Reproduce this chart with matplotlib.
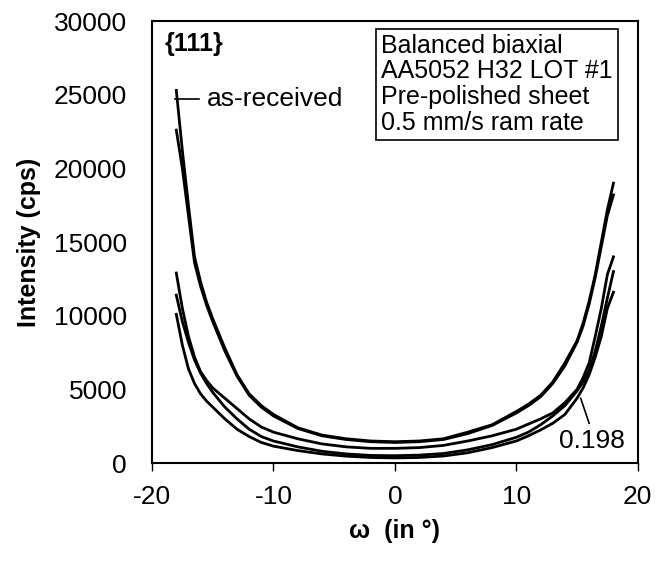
import matplotlib
matplotlib.use('Agg')
import matplotlib.pyplot as plt

plt.rcParams['font.family'] = ['Liberation Sans', 'DejaVu Sans']
plt.rcParams['axes.unicode_minus'] = False

# omega positions (degrees)
omega = [-18, -17.5, -17, -16.5, -16, -15.5, -15, -14, -13, -12, -11, -10, -8, -6, -4, -2, 0,
         2, 4, 6, 8, 10, 11, 12, 13, 14, 15, 15.5, 16, 16.5, 17, 17.5, 18]

# intensity curves (cps)
as_received = [25300, 21200, 17500, 14000, 12300, 10900, 9800, 7800, 6000, 4700, 3900, 3300, 2400, 1900, 1650, 1500, 1450,
               1500, 1650, 2100, 2600, 3500, 4000, 4600, 5500, 6800, 8300, 9500, 11000, 12800, 15000, 17200, 19000]
strain_b = [22600, 20000, 16800, 13600, 12000, 10700, 9600, 7600, 5900, 4600, 3800, 3200, 2350, 1850, 1600, 1450, 1400,
            1450, 1600, 2000, 2550, 3400, 3900, 4500, 5400, 6600, 8200, 9300, 10800, 12600, 14700, 16800, 18200]
strain_c = [12900, 10500, 8600, 7200, 6200, 5600, 5100, 4400, 3700, 3000, 2450, 2100, 1650, 1300, 1100, 1000, 1000,
            1050, 1200, 1500, 1850, 2300, 2650, 3000, 3400, 4100, 5000, 5800, 6800, 8600, 10500, 12800, 14000]
strain_d = [11400, 9600, 8200, 7000, 6100, 5400, 4800, 3800, 3000, 2300, 1800, 1500, 1100, 800, 620, 520, 500,
            540, 650, 900, 1250, 1750, 2100, 2600, 3200, 3900, 4900, 5500, 6300, 7600, 9300, 11200, 13000]
strain_198 = [10100, 8000, 6400, 5400, 4700, 4200, 3800, 3000, 2300, 1800, 1400, 1150, 850, 620, 470, 380, 350,
              380, 480, 700, 1050, 1500, 1850, 2250, 2700, 3300, 4400, 5100, 6000, 7200, 8600, 10500, 11600]

curves = [as_received, strain_b, strain_c, strain_d, strain_198]

fig = plt.figure(figsize=(6.65, 5.71), dpi=100)
ax = fig.add_axes([0.2286, 0.189, 0.7304, 0.774])

for c in curves:
    ax.plot(omega, c, color='black', lw=2.0)

ax.set_xlim(-20, 20)
ax.set_ylim(0, 30000)
ax.set_xticks([-20, -10, 0, 10, 20])
ax.set_yticks(range(0, 30001, 5000))
ax.tick_params(axis='x', direction='out', length=6, width=1, pad=10, labelsize=19)
ax.tick_params(axis='y', length=0, pad=18, labelsize=19)
for s in ax.spines.values():
    s.set_linewidth(1.5)

ax.set_xlabel('ω  (in °)', fontsize=18, fontweight='bold', labelpad=7)
ax.set_ylabel('Intensity (cps)', fontsize=18, fontweight='bold', labelpad=9)

ax.text(0.025, 0.975, '{111}', transform=ax.transAxes, fontsize=18, fontweight='bold',
        ha='left', va='top')

ax.text(0.472, 0.972, 'Balanced biaxial\nAA5052 H32 LOT #1\nPre-polished sheet\n0.5 mm/s ram rate',
        transform=ax.transAxes, fontsize=18, ha='left', va='top', linespacing=1.1,
        bbox=dict(boxstyle='square,pad=0.2', fc='white', ec='black', lw=1.2))

# labels with leader lines
ax.plot([-18.1, -16.1], [24700, 24700], color='black', lw=1.2)
ax.text(-15.5, 24700, 'as-received', fontsize=19, ha='left', va='center')
ax.plot([15.3, 16.0], [4400, 2700], color='black', lw=1.2)
ax.text(16.2, 1500, '0.198', fontsize=19, ha='center', va='center')

fig.savefig('out.png', dpi=100)
